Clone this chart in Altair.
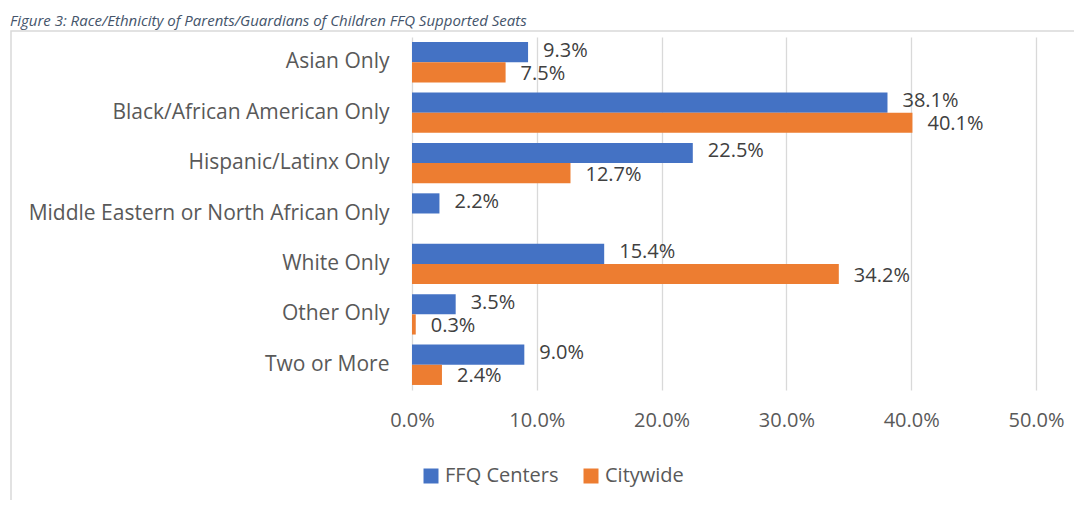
import altair as alt
import pandas as pd

categories = [
    "Asian Only",
    "Black/African American Only",
    "Hispanic/Latinx Only",
    "Middle Eastern or North African Only",
    "White Only",
    "Other Only",
    "Two or More",
]
ffq_centers = [0.093, 0.381, 0.225, 0.022, 0.154, 0.035, 0.090]
citywide = [0.075, 0.401, 0.127, None, 0.342, 0.003, 0.024]
series_names = ["FFQ Centers", "Citywide"]
series_colors = ["#4472C4", "#ED7D31"]
x_ticks = [0.0, 0.1, 0.2, 0.3, 0.4, 0.5]
title_text = "Figure 3: Race/Ethnicity of Parents/Guardians of Children FFQ Supported Seats"

rows = []
for cat, a, b in zip(categories, ffq_centers, citywide):
    rows.append({"category": cat, "series": series_names[0], "value": a})
    rows.append({"category": cat, "series": series_names[1], "value": b})
df = pd.DataFrame(rows)

FONT = "Open Sans"
FS = 21
LFS = 20
AXIS_GRAY = "#595959"
LABEL_GRAY = "#404040"
GRID = "#D9D9D9"

y_enc = alt.Y(
    "category:N",
    sort=categories,
    scale=alt.Scale(paddingInner=0.2, paddingOuter=0.1),
    axis=alt.Axis(
        title=None, domain=False, ticks=False, labelPadding=23,
        labelFont=FONT, labelFontSize=FS, labelColor=AXIS_GRAY, labelLimit=500,
    ),
)
yoff_enc = alt.YOffset("series:N", sort=series_names, scale=alt.Scale(paddingInner=0, paddingOuter=0))
x_enc = alt.X(
    "value:Q",
    scale=alt.Scale(domain=[0, 0.5], nice=False),
    axis=alt.Axis(
        title=None, values=x_ticks, format=".1%", domain=False, ticks=False,
        grid=True, gridColor=GRID, gridWidth=1.3, labelPadding=20,
        labelFlush=False, labelOverlap=False,
        labelFont=FONT, labelFontSize=LFS, labelColor=AXIS_GRAY,
    ),
)
color_enc = alt.Color(
    "series:N",
    sort=series_names,
    scale=alt.Scale(domain=series_names, range=series_colors),
    legend=alt.Legend(
        title=None, orient="none", legendX=9, legendY=429, direction="horizontal",
        symbolType="square", symbolSize=225, symbolStrokeWidth=0,
        labelFont=FONT, labelFontSize=LFS, labelColor=AXIS_GRAY,
        labelOffset=4, columnPadding=22,
    ),
)

bars = alt.Chart(df).mark_bar().encode(
    y=y_enc, yOffset=yoff_enc, x=x_enc, color=color_enc
)


def value_labels(series, dy):
    return alt.Chart(df).transform_filter(
        alt.datum.series == series
    ).mark_text(
        align="left", baseline="middle", dx=15, dy=dy,
        font=FONT, fontSize=LFS, color=LABEL_GRAY,
    ).encode(
        y=alt.Y("category:N", sort=categories),
        yOffset=alt.YOffset("series:N", sort=series_names),
        x=alt.X("value:Q"),
        text=alt.Text("value:Q", format=".1%"),
    )


labels_a = value_labels(series_names[0], -1.5)
labels_b = value_labels(series_names[1], 1.5)

one = pd.DataFrame({"t": [title_text]})
frame = alt.Chart(one).mark_rect(filled=False, stroke=GRID, strokeWidth=1.5).encode(
    x=alt.value(-401), x2=alt.value(700), y=alt.value(-6), y2=alt.value(520)
)
title = alt.Chart(one).mark_text(
    align="left", baseline="alphabetic", font=FONT, fontSize=15,
    fontStyle="italic", color="#44546A"
).encode(x=alt.value(-402), y=alt.value(-11), text="t:N")

chart = alt.layer(frame, title, bars, labels_a, labels_b).properties(
    width=624,
    height=353,
    padding={"left": 404, "top": 29, "right": 38, "bottom": 110},
    autosize=alt.AutoSizeParams(type="none"),
).configure_view(stroke=None)

chart.save("out.html", embed_options={"renderer": "svg", "actions": False})
